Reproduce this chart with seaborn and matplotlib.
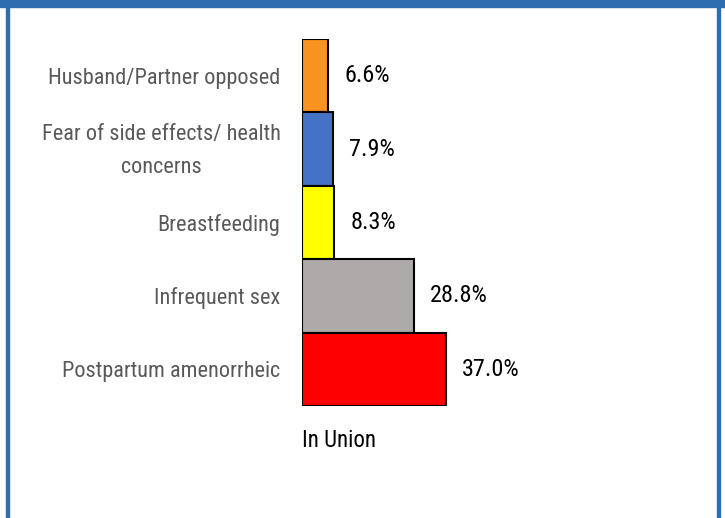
import matplotlib
matplotlib.use("Agg")
import matplotlib.pyplot as plt
import seaborn as sns
import pandas as pd
from matplotlib.patches import Rectangle
from matplotlib.transforms import ScaledTranslation
from matplotlib import font_manager

reasons = ["Husband/Partner opposed", "Fear of side effects/ health\nconcerns",
           "Breastfeeding", "Infrequent sex", "Postpartum amenorrheic"]
values = [6.6, 7.9, 8.3, 28.8, 37.0]
colors = ["#F7931E", "#4472C4", "#FFFF00", "#AEAAAA", "#FF0000"]
group_label = "In Union"

sns.set_theme(style="white")
names = {f.name for f in font_manager.fontManager.ttflist}
fam = [f for f in ["Roboto Condensed", "Liberation Sans Narrow", "Liberation Sans", "DejaVu Sans"] if f in names]
plt.rcParams['font.family'] = fam

df = pd.DataFrame({"reason": reasons, "value": values})

fig = plt.figure(figsize=(7.25, 5.18), dpi=100)
W, H = 725, 518
ax = fig.add_axes([302 / W, 1 - 406 / H, 389 / W, (406 - 39) / H])
sns.barplot(data=df, x="value", y="reason", hue="reason", palette=colors,
            orient="h", width=1.0, legend=False, ax=ax, saturation=1,
            edgecolor="black", linewidth=1.5)
ax.set_xlim(0, 100)
ax.set_ylim(4.5, -0.5)
for s in ax.spines.values():
    s.set_visible(False)
ax.set_xticks([])
ax.set_xlabel("")
ax.set_ylabel("")
ax.tick_params(axis="y", length=0, pad=15.5)
for lbl in ax.get_yticklabels():
    lbl.set_fontsize(16)
    lbl.set_color("#595959")
    lbl.set_multialignment("center")
    lbl.set_linespacing(1.75)
    if "\n" in lbl.get_text():
        lbl.set_transform(lbl.get_transform() + ScaledTranslation(0, 7 / 100, fig.dpi_scale_trans))
for i, v in enumerate(values):
    ax.text(v + 4.2, i, f"{v:.1f}%", va="center", ha="left", fontsize=17.5, color="black")
ax.text(0, -0.095, group_label, transform=ax.transAxes, ha="left", va="center",
        fontsize=16.5, color="black")

# frame
blue = "#2E6DB0"
fig.patches.append(Rectangle((0, 1 - 7 / H), 1, 7 / H, transform=fig.transFigure,
                             color=blue, zorder=0))
fig.patches.append(Rectangle((6 / W, 0), 2.5 / W, 1, transform=fig.transFigure,
                             color=blue, zorder=0))
fig.patches.append(Rectangle((717 / W, 0), 2.5 / W, 1, transform=fig.transFigure,
                             color=blue, zorder=0))
fig.savefig("out.png", dpi=100)
